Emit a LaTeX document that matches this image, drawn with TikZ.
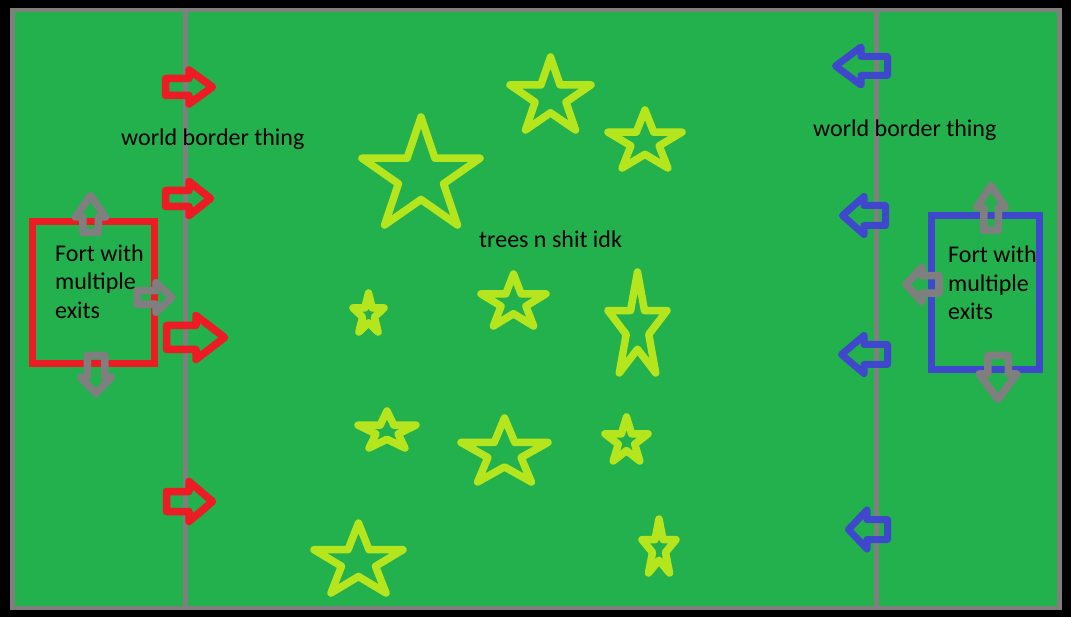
\documentclass[tikz,border=0pt]{standalone}
\usepackage{fontspec}
\setmainfont{Carlito}
\definecolor{pgreen}{HTML}{22B14C}
\definecolor{pred}{HTML}{ED1C24}
\definecolor{pblue}{HTML}{3F48CC}
\definecolor{pgray}{HTML}{7F7F7F}
\definecolor{pyel}{HTML}{B5E61D}
% right-pointing arrow: xl, xh, xt, yc, body half, head half, style
\newcommand\ArrR[7]{\draw[#7] (#1,#4-#5) -- (#2,#4-#5) -- (#2,#4-#6) -- (#3,#4) -- (#2,#4+#6) -- (#2,#4+#5) -- (#1,#4+#5) -- cycle;}
% vertical arrow: y body end, y head base, y tip, xc, body half, head half, style
\newcommand\ArrV[7]{\draw[#7] (#4-#5,#1) -- (#4-#5,#2) -- (#4-#6,#2) -- (#4,#3) -- (#4+#6,#2) -- (#4+#5,#2) -- (#4+#5,#1) -- cycle;}
% star in centerline box L T R B
\newcommand\StarBox[4]{%
  \pgfmathsetmacro\stsx{(#3-#1)/1.902}%
  \pgfmathsetmacro\stsy{(#4-#2)/1.809}%
  \pgfmathsetmacro\stcx{(#1+#3)/2}%
  \pgfmathsetmacro\stcy{#2+\stsy}%
  \begin{scope}[shift={(\stcx,\stcy)},xscale=\stsx,yscale=\stsy]
    \draw[treestar] (-90:1) -- (-54:0.382) -- (-18:1) -- (18:0.382) -- (54:1) -- (90:0.382) -- (126:1) -- (162:0.382) -- (198:1) -- (234:0.382) -- cycle;
  \end{scope}}
\begin{document}
\begin{tikzpicture}[x=1pt,y=-1pt,
  redarrow/.style={draw=pred,line width=7.5pt,line join=round},
  bluearrow/.style={draw=pblue,line width=7pt,line join=round},
  grayarrow/.style={draw=pgray,line width=7.5pt,line join=round},
  treestar/.style={draw=pyel,line width=7.5pt,line join=round},
  fortbox/.style={line width=7.5pt,line join=miter},
  border/.style={draw=pgray,line width=4.5pt},
  label/.style={inner sep=0pt,anchor=base west,font=\fontsize{24}{28.5}\selectfont,text=black,align=left}]
\useasboundingbox (0,0) rectangle (1071,617);
\fill[black] (0,0) rectangle (1071,617);
\fill[pgreen] (12.5,10) rectangle (1059.5,608);
\draw[border] (12.5,10) rectangle (1059.5,608);
\coordinate (lbtop) at (185.5,10);
\coordinate (lbbot) at (185.5,608);
\coordinate (rbtop) at (876.5,10);
\coordinate (rbbot) at (876.5,608);
\draw[border] (lbtop) -- (lbbot);
\draw[border] (rbtop) -- (rbbot);
% red arrows
\ArrR{165.5}{189}{212.5}{87}{8.5}{17}{redarrow}
\ArrR{165.5}{189}{210.5}{198.5}{8}{17}{redarrow}
\ArrR{166.5}{196}{224.5}{337.5}{12}{22}{redarrow}
\ArrR{166.5}{189}{212.5}{501.5}{10}{20}{redarrow}
% blue arrows (left-pointing)
\ArrR{887.5}{861}{835.5}{66}{9.5}{19}{bluearrow}
\ArrR{885.5}{864}{842.5}{215.5}{10}{19}{bluearrow}
\ArrR{887.5}{864}{841.5}{354.5}{10}{19}{bluearrow}
\ArrR{887.5}{867}{848.5}{529.5}{10}{19.5}{bluearrow}
% forts
\draw[fortbox,draw=pred] (32.5,221.5) rectangle (154.5,363.5);
\draw[fortbox,draw=pblue] (931.5,215.5) rectangle (1039.5,369.5);
% gray exits, left fort
\ArrV{232.5}{217}{195.5}{90.5}{7.75}{15}{grayarrow}
\ArrR{137}{156}{172}{297.5}{6.75}{14.75}{grayarrow}
\ArrV{355.5}{377.5}{393.5}{96}{8.75}{15.25}{grayarrow}
% gray exits, right fort
\ArrV{230.5}{207.5}{185.5}{991}{7.25}{14.25}{grayarrow}
\ArrR{939}{922}{906}{284.5}{8.75}{17.25}{grayarrow}
\ArrV{355.5}{374}{399.5}{998}{10.25}{18.75}{grayarrow}
% trees
\StarBox{362}{117}{480}{225}
\StarBox{510}{57}{591}{130}
\StarBox{608}{110}{682}{168}
\StarBox{353}{293}{384}{332}
\StarBox{481}{274}{546}{326}
\StarBox{608}{272}{667}{373}
\StarBox{358}{411}{416}{448}
\StarBox{461}{418}{548}{482}
\StarBox{605}{417}{648}{461}
\StarBox{314}{523}{403}{593}
\StarBox{642}{519}{676}{573}
% labels
\node[label] (wbl) at (121,146) {world border thing};
\node[label] (wbr) at (813,137) {world border thing};
\node[label] (trees) at (479,248) {trees n shit idk};
\node[label] (fortl) at (55,318.5) {Fort with\\multiple\\exits};
\node[label] (fortr) at (948,320) {Fort with\\multiple\\exits};
\end{tikzpicture}
\end{document}
